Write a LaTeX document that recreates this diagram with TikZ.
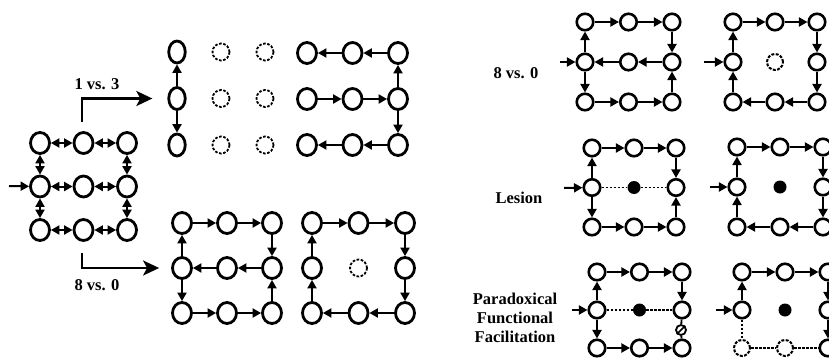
\documentclass[tikz,border=0pt]{standalone}
\usepackage{fontspec}
\setmainfont{Liberation Serif}
\usetikzlibrary{arrows.meta,shapes.geometric}

\tikzset{
 sol/.style={ellipse, draw, line width=2.8pt, minimum width=19pt, minimum height=21pt, inner sep=0pt},
 tall/.style={ellipse, draw, line width=2.8pt, minimum width=16.5pt, minimum height=22pt, inner sep=0pt},
 solr/.style={circle, draw, line width=2.6pt, minimum size=16.5pt, inner sep=0pt},
 dsh/.style={circle, draw, line width=1.8pt, dash pattern=on 2.6pt off 1.6pt, minimum size=17pt, inner sep=0pt},
 dshr/.style={circle, draw, line width=2pt, dash pattern=on 3pt off 1.4pt, minimum size=16pt, inner sep=0pt},
 blk/.style={circle, fill, minimum size=13pt, inner sep=0pt},
 con/.style={line width=2pt, -{Triangle[length=8.5pt,width=9pt]}},
 bi/.style={line width=2pt, {Triangle[length=8.5pt,width=9pt]}-{Triangle[length=8.5pt,width=9pt]}},
 dl/.style={line width=1.4pt, dash pattern=on 2.5pt off 1.5pt},
 lab/.style={font=\fontsize{16.5}{19}\selectfont\bfseries, align=center, inner sep=0pt},
 big/.style={line width=2.6pt, -{Stealth[length=16pt,width=15pt,inset=4pt]}},
}

\newcommand\mkgrid[7]{%
 \foreach \r in {1,2,3}{\foreach \c in {1,2,3}{%
  \pgfmathsetmacro\xx{#2+(\c-1)*#3}%
  \pgfmathsetmacro\yy{#4+(\r-1)*#5}%
  \ifnum\r\c=22 \node[#7] (#1\r\c) at (\xx,\yy) {};%
  \else \node[#6] (#1\r\c) at (\xx,\yy) {};\fi
 }}}

\newcommand\outflow[1]{%
 \draw[con] (#111)--(#112); \draw[con] (#112)--(#113);
 \draw[con] (#113)--(#123); \draw[con] (#133)--(#123);
 \draw[con] (#123)--(#122); \draw[con] (#122)--(#121);
 \draw[con] (#121)--(#111); \draw[con] (#121)--(#131);
 \draw[con] (#131)--(#132); \draw[con] (#132)--(#133);}
\newcommand\ringflow[1]{%
 \draw[con] (#111)--(#112); \draw[con] (#112)--(#113);
 \draw[con] (#113)--(#123); \draw[con] (#123)--(#133);
 \draw[con] (#133)--(#132); \draw[con] (#132)--(#131);
 \draw[con] (#131)--(#121); \draw[con] (#121)--(#111);}

\begin{document}
\begin{tikzpicture}[x=1pt,y=-1pt]
\useasboundingbox (0,0) rectangle (829,359);
\clip (0,0) rectangle (829,359);
\fill[white] (0,0) rectangle (829,359);

% ---------- left grid (all bidirectional) ----------
\mkgrid{a}{40}{43.5}{143}{43.5}{sol}{sol}
\foreach \p/\q in {a11/a12,a12/a13,a21/a22,a22/a23,a31/a32,a32/a33,a11/a21,a21/a31,a13/a23,a23/a33}
  \draw[bi] (\p)--(\q);
\coordinate (ain) at (9,186);
\draw[con] (ain)--(a21);

% ---------- 1 vs 3 ----------
\foreach \r in {1,2,3}{\foreach \c in {1,2,3}{%
  \pgfmathsetmacro\xx{177+(\c-1)*44}%
  \pgfmathsetmacro\yy{52+(\r-1)*46.5}%
  \ifnum\c=1 \node[tall] (b\r\c) at (\xx,\yy) {};%
  \else \node[dsh] (b\r\c) at (\xx,\yy) {};\fi
}}
\draw[con] (b21)--(b11);
\draw[con] (b21)--(b31);

\mkgrid{c}{307}{45.5}{53}{46}{sol}{sol}
\draw[con] (c13)--(c12); \draw[con] (c12)--(c11);
\draw[con] (c21)--(c22); \draw[con] (c22)--(c23);
\draw[con] (c23)--(c13); \draw[con] (c23)--(c33);
\draw[con] (c33)--(c32); \draw[con] (c32)--(c31);

\node[lab] (t13) at (97,84) {1 vs. 3};
\coordinate (s1) at (82,122);
\draw[big, shorten >=15pt] (s1) |- (b21);

% ---------- 8 vs 0 ----------
\mkgrid{d}{182}{45}{223}{45}{sol}{sol}
\outflow{d}
\mkgrid{e}{312}{46.5}{223}{45}{sol}{dsh}
\ringflow{e}

\node[lab] (t80) at (97,285) {8 vs. 0};
\coordinate (s2) at (82,253);
\draw[big, shorten >=12pt] (s2) |- (d21);

% ---------- right panel: 8 vs 0 ----------
\node[lab] (r80) at (516,73) {8 vs. 0};
\mkgrid{f}{585}{43.5}{22}{40}{solr}{solr}
\outflow{f}
\coordinate (fin) at (560,62); \draw[con] (fin)--(f21);
\mkgrid{g}{733}{42}{22}{40}{solr}{dshr}
\ringflow{g}
\coordinate (gin) at (704,62); \draw[con] (gin)--(g21);

% ---------- Lesion ----------
\node[lab] (rles) at (519,198) {Lesion};
\mkgrid{h}{592}{42}{148}{39.5}{solr}{blk}
\draw[con] (h11)--(h12); \draw[con] (h12)--(h13);
\draw[con] (h13)--(h23); \draw[con] (h33)--(h23);
\draw[dl] (h21)--(h22); \draw[dl] (h22)--(h23);
\draw[con] (h21)--(h11); \draw[con] (h21)--(h31);
\draw[con] (h31)--(h32); \draw[con] (h32)--(h33);
\coordinate (hin) at (564,188); \draw[con] (hin)--(h21);
\mkgrid{i}{737}{43}{147}{40}{solr}{blk}
\ringflow{i}
\coordinate (iin) at (710,187); \draw[con] (iin)--(i21);

% ---------- Paradoxical Functional Facilitation ----------
\node[lab] (rpff) at (515,318) {Paradoxical\\Functional\\Facilitation};
\mkgrid{j}{597}{42.5}{272}{38}{solr}{blk}
\draw[con] (j11)--(j12); \draw[con] (j12)--(j13);
\draw[con] (j13)--(j23);
\draw[dl] (j21)--(j22); \draw[dl] (j22)--(j23);
\draw[con] (j21)--(j11); \draw[con] (j21)--(j31);
\draw[con] (j31)--(j32); \draw[con] (j32)--(j33);
\node[circle, draw, line width=1.8pt, minimum size=10pt, inner sep=0pt] (jsym) at (681,330) {};
\draw[line width=1.6pt] (jsym.south west)--(jsym.north east);
\draw[line width=1.8pt] (j23)--(jsym);
\draw[line width=1.8pt] (jsym)--(j33);
\coordinate (jin) at (572,310); \draw[con] (jin)--(j21);

\foreach \r in {1,2,3}{\foreach \c in {1,2,3}{%
  \pgfmathsetmacro\xx{742+(\c-1)*43}%
  \pgfmathsetmacro\yy{272+(\r-1)*38}%
  \ifnum\r\c=22 \node[blk] (k\r\c) at (\xx,\yy) {};%
  \else\ifnum\r\c=31 \node[dshr] (k\r\c) at (\xx,\yy) {};%
  \else\ifnum\r\c=32 \node[dshr] (k\r\c) at (\xx,\yy) {};%
  \else \node[solr] (k\r\c) at (\xx,\yy) {};\fi\fi\fi
}}
\draw[con] (k11)--(k12); \draw[con] (k12)--(k13);
\draw[con] (k21)--(k11);
\draw[dl] (k21)--(k31);
\draw[dl] (k31)--(k32); \draw[dl] (k32)--(k33);
\draw[con] (k13)--(k23); \draw[con] (k23)--(k33);
\coordinate (kin) at (716,310); \draw[con] (kin)--(k21);
\end{tikzpicture}
\end{document}
